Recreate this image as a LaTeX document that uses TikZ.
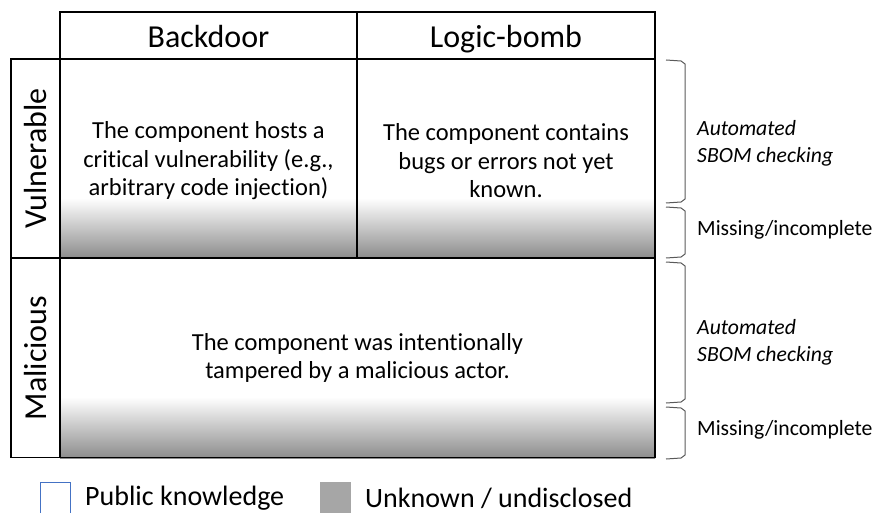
\documentclass[tikz,border=0pt]{standalone}
\usepackage{fontspec}
\setmainfont[Ligatures=NoCommon]{Carlito}
\usetikzlibrary{positioning, calc}
\definecolor{legendblue}{RGB}{68, 114, 196}
\definecolor{hidgray}{RGB}{166, 166, 166}
\definecolor{bracegray}{RGB}{90, 90, 90}

% bracket on the right of the table, from y=#1 to y=#2
\newcommand{\sidebracket}[2]{%
  \draw[bracket] (666,#1) -- (681,{#1+1}) -- (685,{#1+4}) -- (685,{#2-4}) -- (681,{#2-1}) -- (666,#2);}

\begin{document}
\begin{tikzpicture}[x=1pt, y=-1pt,
  cell/.style={draw, line width=1.6pt, inner sep=0pt, align=center},
  hdr/.style={cell, text height=24pt, text depth=0pt, font=\fontsize{32}{38}\selectfont},
  side/.style={cell, rotate=90, font=\fontsize{32}{38}\selectfont},
  body/.style={cell, font=\fontsize{24.5}{28.5}\selectfont},
  fade/.style={top color=white, bottom color=black!45},
  bracket/.style={draw=bracegray, line width=1pt},
  note/.style={anchor=west, align=left, inner sep=0pt, font=\fontsize{21.7}{27}\selectfont},
  legend/.style={anchor=west, inner sep=0pt, font=\fontsize{28}{34}\selectfont}
]
  \useasboundingbox (0,0) rectangle (875,513);

  % shaded bands (unknown part of each row)
  \fill[fade] (60,198) rectangle (655,258);
  \fill[fade] (60,397) rectangle (655,458);

  % table
  \node[hdr, minimum width=297, minimum height=47] (hback) at (208.5,35.5) {Backdoor};
  \node[hdr, minimum width=298, minimum height=47] (hlogic) at (506,35.5) {Logic-bomb};
  \node[side, minimum width=199, minimum height=49] (rvul) at (35.5,158.5) {Vulnerable};
  \node[side, minimum width=199, minimum height=49] (rmal) at (35.5,358) {Malicious};
  \node[body, minimum width=297, minimum height=199] (cback) at (208.5,158.5) {};
  \node[body, minimum width=298, minimum height=199] (clogic) at (506,158.5) {};
  \node[body, minimum width=595, minimum height=199] (cmal) at (357.5,358) {};

  \node[body, draw=none] (tback) at (208.5,161) {
    The component hosts a\\
    critical vulnerability (e.g.,\\
    arbitrary code injection)
  };
  \node[body, draw=none] (tlogic) at (506,161) {
    The component contains\\
    bugs or errors not yet\\
    known.
  };
  \node[body, draw=none] (tmal) at (357.5,358) {
    The component was intentionally\\
    tampered by a malicious actor.
  };

  % brackets and their notes
  \sidebracket{60}{203}
  \sidebracket{207}{258}
  \sidebracket{262}{403}
  \sidebracket{407}{459}
  \node[note] (auto1) at (697,143) {\itshape Automated\\\itshape SBOM checking};
  \node[note] (miss1) at (697,230) {Missing/incomplete};
  \node[note] (auto2) at (697,342) {\itshape Automated\\\itshape SBOM checking};
  \node[note] (miss2) at (697,430) {Missing/incomplete};

  % legend
  \draw[legendblue, line width=1pt] (40,482) rectangle (70,520);
  \fill[hidgray] (320,482) rectangle (351,520);
  \node[legend] (lpub) at (85,498) {Public knowledge};
  \node[legend] (lunk) at (365,498) {Unknown / undisclosed};
\end{tikzpicture}
\end{document}
